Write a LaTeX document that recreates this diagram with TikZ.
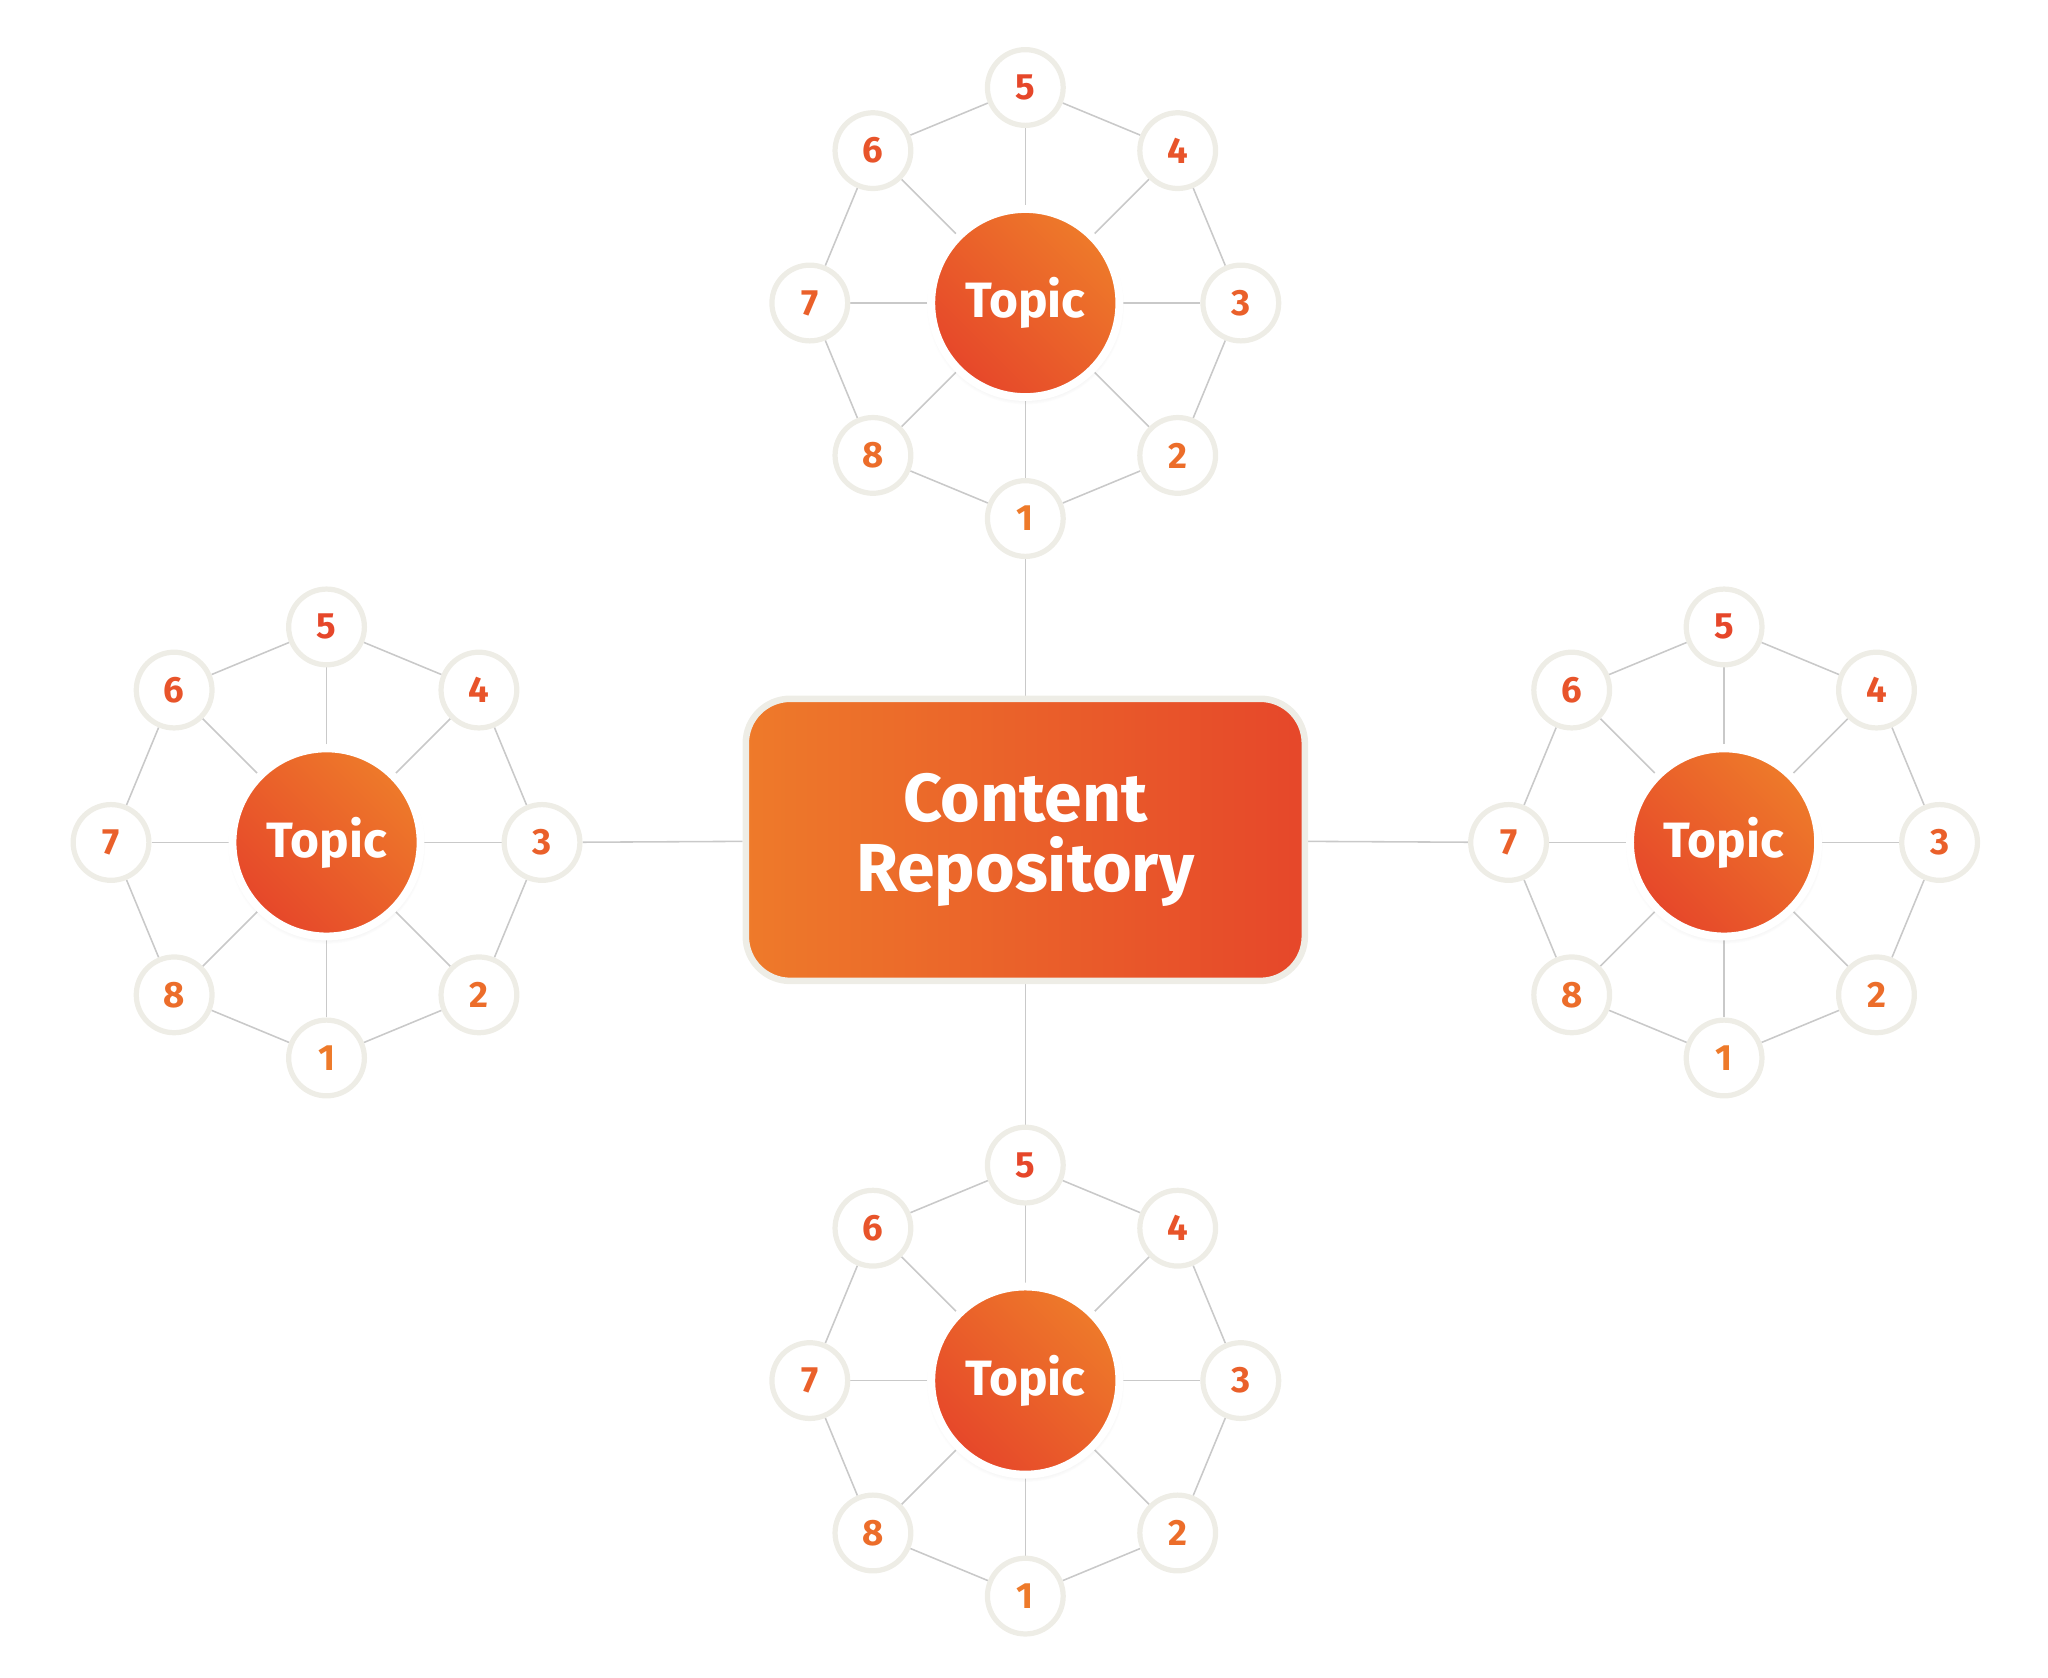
\documentclass[tikz,border=0pt]{standalone}
\usepackage{fontspec}
\setmainfont{Fira Sans}
\usetikzlibrary{backgrounds,shadows,calc}
\definecolor{org}{HTML}{EE7A2A}
\definecolor{red1}{HTML}{E6472A}
\definecolor{ring}{HTML}{EEEDE6}
\definecolor{lin}{HTML}{C9C9C9}
\tikzset{
  sat/.style={circle,draw=ring,line width=2pt,fill=white,minimum size=29pt,inner sep=0pt,font=\fontsize{14}{14}\selectfont\bfseries,circular drop shadow={shadow xshift=0pt,shadow yshift=0pt,opacity=.12,shadow scale=1.06}},
  topic/.style={circle,draw=white,line width=3pt,minimum size=72pt,inner sep=0pt,left color=org,right color=red1,shading angle=-45,text=white,font=\fontsize{19}{19}\selectfont\bfseries,circular drop shadow={shadow xshift=0pt,shadow yshift=-1pt,opacity=.25,shadow scale=1.05}},
  repo/.style={rounded corners=17pt,draw=ring,line width=2.5pt,left color=org,right color=red1,minimum width=214pt,minimum height=108pt,text=white,align=center,font=\fontsize{26}{27}\selectfont\bfseries},
  conn/.style={draw=lin,line width=0.6pt}
}
\begin{document}
\begin{tikzpicture}[x=0.5pt,y=-0.5pt]
\useasboundingbox (0,0) rectangle (1568,1284);
\node[repo] (repo) at (785,643) {Content\\Repository};
\foreach \n/\cx/\cy in {a/785/232,b/250/645,c/1320/645,d/785/1057}{
  \node[topic] (\n) at (\cx,\cy) {Topic};
  \foreach \k in {1,...,8}{
    \pgfmathsetmacro{\ang}{90-(\k-1)*45}
    \pgfmathsetmacro{\mix}{\k<=4?100-(\k-1)*25:(\k-5)*25}
    \colorlet{numc}{org!\mix!red1}
    \node[sat,text=numc] (\n\k) at ($(\cx,\cy)+(\ang:165)$) {\k};
  }
  \begin{scope}[on background layer]
  \foreach \k in {1,...,8}{
    \pgfmathtruncatemacro{\nx}{mod(\k,8)+1}
    \draw[conn] (\n) -- (\n\k);
    \draw[conn] (\n\k) -- (\n\nx);
  }
  \end{scope}
}
\begin{scope}[on background layer]
\draw[conn] (a5) -- (repo);
\draw[conn] (repo) -- (d1);
\draw[conn] (b3) -- (repo);
\draw[conn] (repo) -- (c7);
\end{scope}
\end{tikzpicture}
\end{document}
